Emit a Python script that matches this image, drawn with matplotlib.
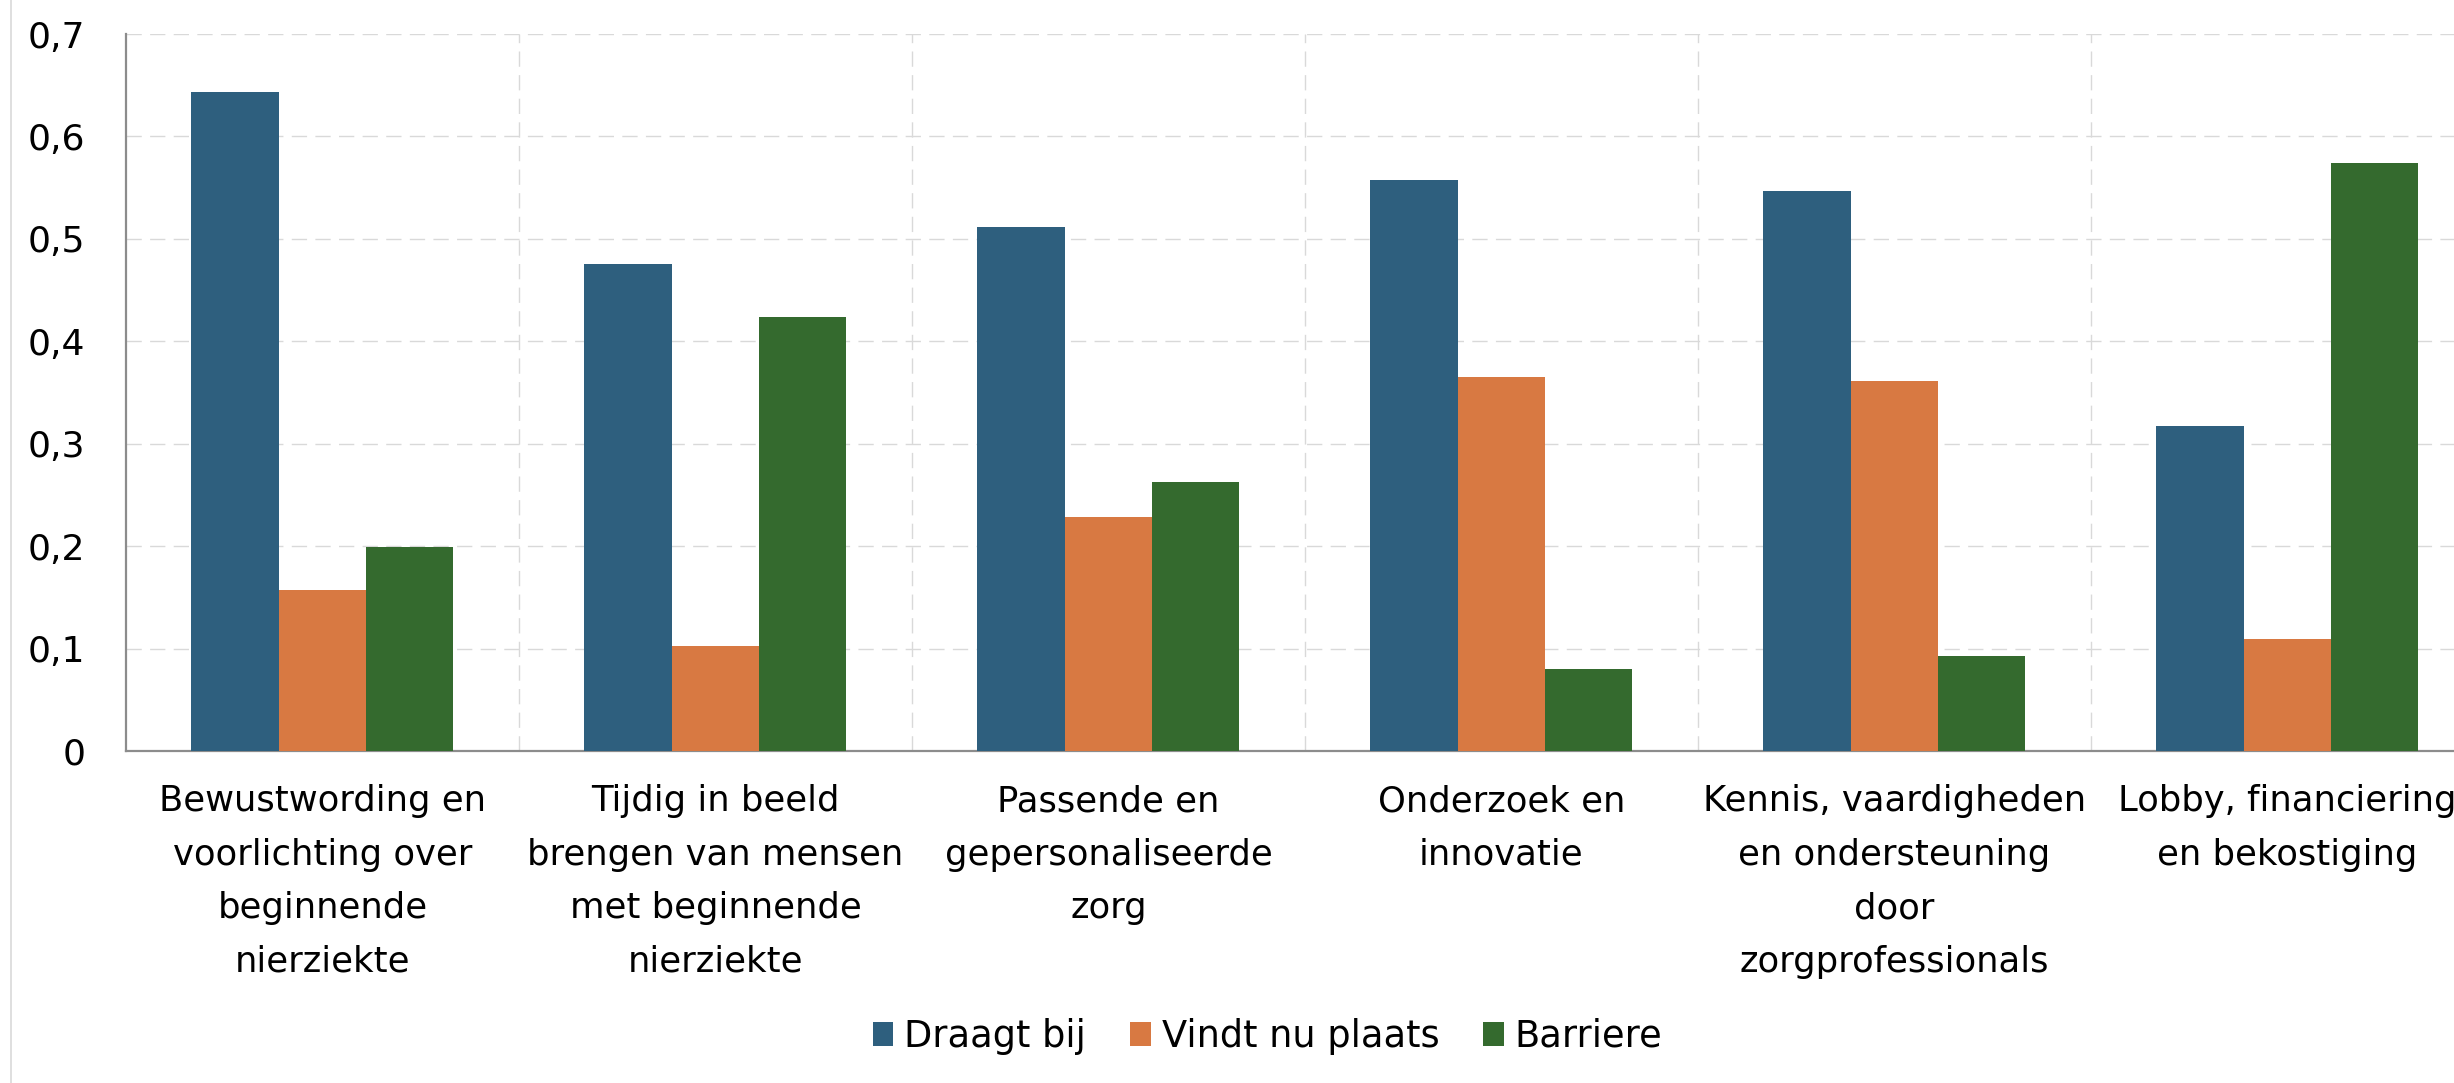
# imports
import numpy as np
import matplotlib
matplotlib.use('Agg')
import matplotlib.pyplot as plt
from matplotlib.lines import Line2D
from matplotlib.patches import Patch

# data
categories = ['Bewustwording en\nvoorlichting over\nbeginnende\nnierziekte',
              'Tijdig in beeld\nbrengen van mensen\nmet beginnende\nnierziekte',
              'Passende en\ngepersonaliseerde\nzorg',
              'Onderzoek en\ninnovatie',
              'Kennis, vaardigheden\nen ondersteuning\ndoor\nzorgprofessionals',
              'Lobby, financiering\nen bekostiging']
draagt_bij = [0.643, 0.475, 0.512, 0.557, 0.547, 0.317]
vindt_nu_plaats = [0.157, 0.102, 0.228, 0.365, 0.361, 0.109]
barriere = [0.199, 0.424, 0.263, 0.080, 0.093, 0.574]
series_names = ['Draagt bij', 'Vindt nu plaats', 'Barriere']
y_ticks = [0, 0.1, 0.2, 0.3, 0.4, 0.5, 0.6, 0.7]
y_tick_labels = ['0', '0,1', '0,2', '0,3', '0,4', '0,5', '0,6', '0,7']

colors = ['#2E5F7E', '#D87942', '#346A2E']

plt.rcParams['font.family'] = ['DejaVu Sans']

fig = plt.figure(figsize=(24.54, 10.83), dpi=100)
# axes extend past the right edge, the last category is cut off like in the original
ax = fig.add_axes([0.0513, 0.3066, 0.9609, 0.662])

x = np.arange(len(categories))
w = 1 / 4.5  # gap width 150%
for i, (vals, name) in enumerate(zip([draagt_bij, vindt_nu_plaats, barriere], series_names)):
    ax.bar(x + (i - 1) * w, vals, width=w, color=colors[i], label=name, zorder=3)

ax.set_xlim(-0.5, len(categories) - 0.5)
ax.set_ylim(0, 0.7)
ax.set_yticks(y_ticks)
ax.set_yticklabels(y_tick_labels)
ax.set_xticks(x)
ax.set_xticklabels(categories, linespacing=1.72, va='top')
ax.set_xticks(x[:-1] + 0.5, minor=True)

# grid: dashed light grey, horizontal and between categories
ax.grid(axis='y', which='major', color='#D9D9D9', linestyle=(0, (11, 6)), linewidth=1.0, zorder=0)
ax.grid(axis='x', which='minor', color='#D9D9D9', linestyle=(0, (11, 6)), linewidth=1.0, zorder=0)
ax.grid(axis='x', which='major', visible=False)

for s in ['top', 'right']:
    ax.spines[s].set_visible(False)
for s in ['left', 'bottom']:
    ax.spines[s].set_color('#8C8C8C')
    ax.spines[s].set_linewidth(1.6)

ax.tick_params(axis='y', length=0, pad=29, labelsize=26)
ax.tick_params(axis='x', which='both', length=0, pad=24, labelsize=25.5)

# legend
handles = [Patch(facecolor=c, edgecolor='none') for c in colors]
fig.legend(handles, series_names, loc='center', bbox_to_anchor=(0.5166, 0.043),
           ncol=3, frameon=False, fontsize=26.5, handlelength=0.55, handleheight=0.6,
           handletextpad=0.3, columnspacing=1.2)

# chart area border on the left
fig.add_artist(Line2D([0.0045, 0.0045], [0, 1], color='#D9D9D9', linewidth=1.2))

fig.savefig('out.png', dpi=100, facecolor='white')
